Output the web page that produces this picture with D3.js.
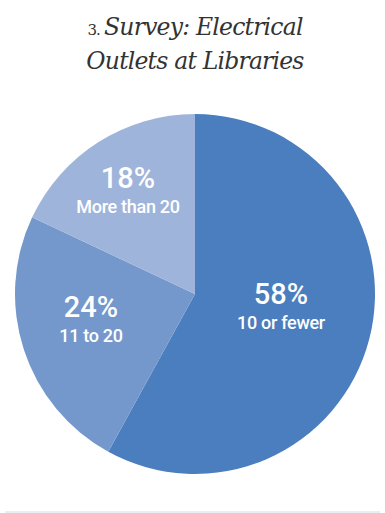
<!DOCTYPE html>
<html>
<head>
<meta charset="utf-8">
<title>Survey: Electrical Outlets at Libraries</title>
<script src="https://d3js.org/d3.v7.min.js"></script>
<style>
  body { margin: 0; background: #fff; }
  .title { font-family: "DejaVu Serif", serif; font-style: italic; fill: #333; }
  .pct { font-family: "Roboto", sans-serif; fill: #fff; }
</style>
</head>
<body>
<svg id="chart" width="385" height="513"></svg>
<script>
// data
const categories = ["10 or fewer", "11 to 20", "More than 20"];
const shares = [58, 24, 18];
const colors = ["#4a7ebe", "#7598cc", "#9fb4da"];
// label centres are hand placed like the original
const labelPos = [[281, 304], [91, 317], [128, 188]];

const svg = d3.select('#chart');
const cx = 195, cy = 294, r = 180;

const title = svg.append('text')
    .attr('class', 'title')
    .attr('text-anchor', 'middle')
    .attr('font-size', 23.5)
    .attr('letter-spacing', -0.8);
title.append('tspan')
    .attr('x', 195).attr('y', 35)
    .attr('font-size', 15).attr('font-style', 'normal')
    .text('3. ');
title.append('tspan').text('Survey: Electrical');
title.append('tspan')
    .attr('x', 195).attr('y', 69)
    .text('Outlets at Libraries');

const pie = d3.pie().sort(null).value(d => d);
const arc = d3.arc().innerRadius(0).outerRadius(r);

const g = svg.append('g').attr('transform', `translate(${cx},${cy})`);
g.selectAll('path')
  .data(pie(shares))
  .enter()
  .append('path')
    .attr('d', arc)
    .style('fill', (d, i) => colors[i]);

const labels = svg.selectAll('g.lbl')
  .data(shares)
  .enter()
  .append('g')
    .attr('class', 'lbl')
    .attr('transform', (d, i) => `translate(${labelPos[i][0]},${labelPos[i][1]})`);

labels.append('text')
    .attr('class', 'pct')
    .attr('text-anchor', 'middle')
    .attr('font-size', 29)
    .attr('font-weight', 500)
    .text(d => d + '%');

labels.append('text')
    .attr('class', 'pct')
    .attr('text-anchor', 'middle')
    .attr('y', 25)
    .attr('font-size', 18)
    .attr('font-weight', 500)
    .attr('letter-spacing', -0.3)
    .text((d, i) => categories[i]);

svg.append('line')
    .attr('x1', 5).attr('x2', 380)
    .attr('y1', 512).attr('y2', 512)
    .style('stroke', '#e6e6ee')
    .style('stroke-width', 1.5);
</script>
</body>
</html>
